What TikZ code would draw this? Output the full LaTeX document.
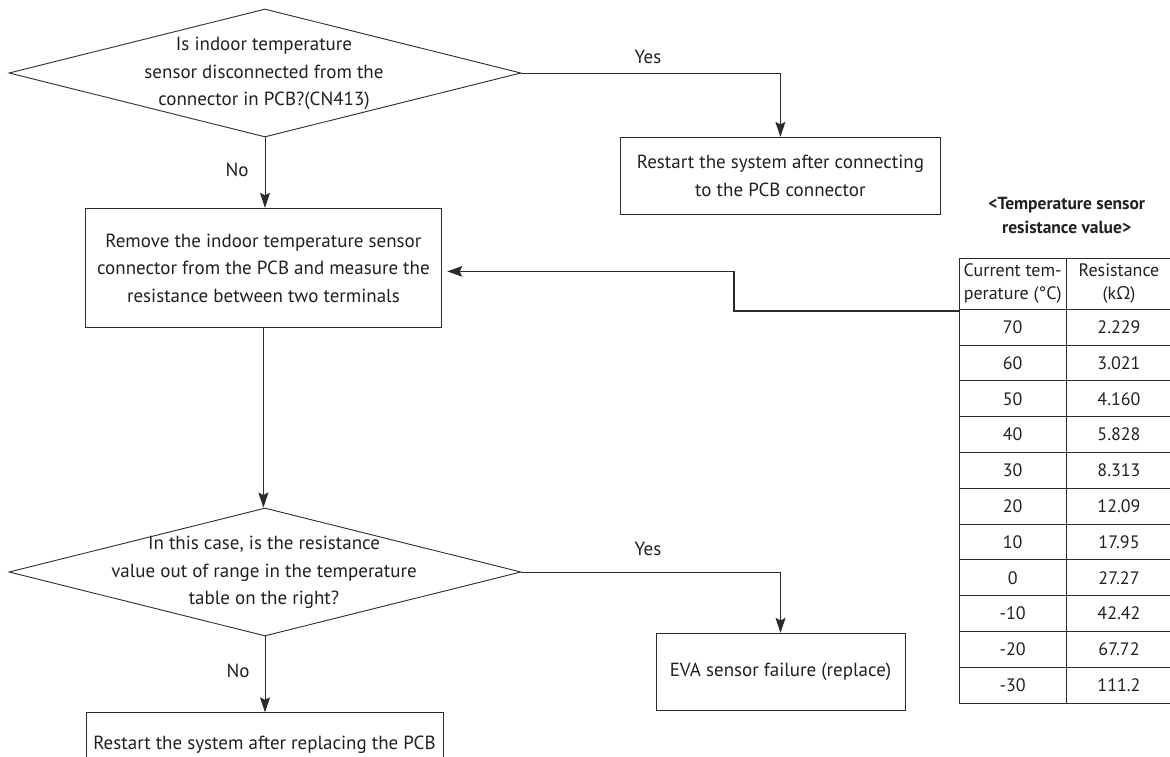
\documentclass[tikz,border=0pt]{standalone}
\usepackage{fontspec}
\setmainfont{PT Sans}
\newfontfamily\gkfont{Open Sans}
\usetikzlibrary{arrows.meta,shapes.geometric}
\definecolor{ln}{HTML}{2B2B2B}
\definecolor{tx}{HTML}{231F20}
\tikzset{
  dia/.style={draw=ln, line width=0.9pt, diamond, inner sep=0pt, minimum width=512pt, minimum height=128pt},
  box/.style={draw=ln, line width=0.9pt, rectangle, inner sep=0pt, align=center, text=tx,
     font=\fontsize{19}{27.5}\selectfont},
  txt/.style={align=center, text=tx, inner sep=0pt, font=\fontsize{19}{27.5}\selectfont},
  lbl/.style={text=tx, inner sep=0pt, font=\fontsize{19}{23}\selectfont},
  tcell/.style={text=tx, inner sep=0pt, align=center, font=\fontsize{18}{23.3}\selectfont},
  ttitle/.style={text=tx, inner sep=0pt, align=center, font=\bfseries\fontsize{17.5}{24}\selectfont},
  arr/.style={draw=ln, line width=0.9pt, -{Stealth[length=15pt,width=10pt,inset=2.5pt]}},
  thickarr/.style={draw=ln, line width=1.8pt, -{Stealth[length=15pt,width=10.5pt,inset=2.5pt]}, shorten >=5pt},
}
\begin{document}
\begin{tikzpicture}[x=1pt,y=-1pt]
\useasboundingbox (0,0) rectangle (1170,757);
\clip (0,0) rectangle (1170,757);

% decisions
\node[dia] (d1) at (265,73) {};
\node[txt] (d1t) at (264,73.5) {Is indoor temperature\\sensor disconnected from the\\connector in PCB?(CN413)};
\node[dia] (d2) at (265,572) {};
\node[txt] (d2t) at (264,572.5) {In this case, is the resistance\\value out of range in the temperature\\table on the right?};

% boxes
\node[box, minimum width=319.3pt, minimum height=76.7pt] (b1) at (780.4,175.7) {Restart the system after connecting\\to the PCB connector};
\node[box, minimum width=356.7pt, minimum height=119.4pt] (b2) at (263.4,268) {Remove the indoor temperature sensor\\connector from the PCB and measure the\\resistance between two terminals};
\node[box, minimum width=249pt, minimum height=76.7pt] (b3) at (780.5,671.7) {EVA sensor failure (replace)};
\node[box, minimum width=357pt, minimum height=64pt] (b4) at (264.5,744.8) {Restart the system after replacing the PCB};

% connectors
\draw[arr] (d1.east) -| (b1.north);
\node[lbl] (y1) at (648,57) {Yes};
\draw[arr] (d1.south) -- (d1.south |- b2.north);
\node[lbl] (n1) at (237,170) {No};
\draw[arr] (b2.south) -- (b2.south |- d2.north);
\draw[arr] (d2.east) -| (b3.north);
\node[lbl] (y2) at (648,549) {Yes};
\draw[arr] (d2.south) -- (d2.south |- b4.north);
\node[lbl] (n2) at (238,671) {No};

% table title
\node[ttitle] (title) at (1066.7,215) {<Temperature sensor\\resistance value>};

% table
\coordinate (tab) at (959.3,311);
\draw[ln, line width=0.9pt] (959.3,258.3) rectangle (1172,703.1);
\draw[ln, line width=0.9pt] (1066,258.3) -- (1066,703.1);
\foreach \k in {0,...,10} {
  \draw[ln, line width=0.9pt] (959.3,{309.3+35.8*\k}) -- (1172,{309.3+35.8*\k});
}
\node[tcell] (h1) at (1012.7,283.5) {Current tem-\\perature (°C)};
\node[tcell] (h2) at (1119,283.5) {Resistance\\(k{\gkfont Ω})};
\foreach \t/\r [count=\i from 0] in {70/2.229,60/3.021,50/4.160,40/5.828,30/8.313,20/12.09,10/17.95,0/27.27,-10/42.42,-20/67.72,-30/111.2} {
  \node[tcell] at (1012.7,{327.2+35.8*\i}) {\t};
  \node[tcell] at (1119,{327.2+35.8*\i}) {\r};
}

\draw[thickarr] (tab) -- (734,311) |- ([yshift=-3.4pt]b2.east);
\end{tikzpicture}
\end{document}
